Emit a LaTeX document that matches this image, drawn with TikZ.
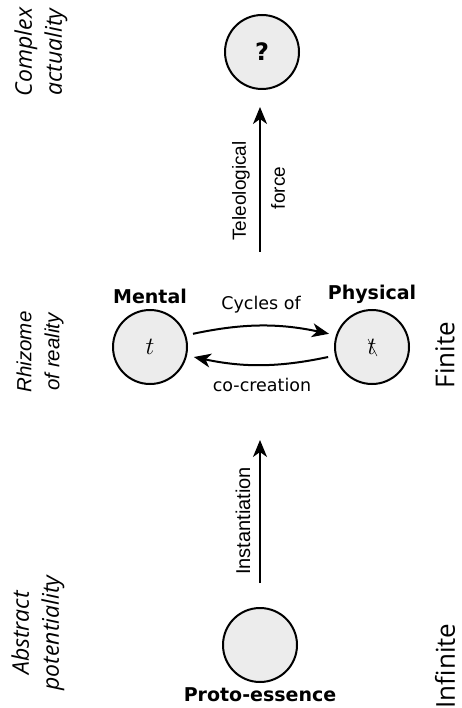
\documentclass[tikz,border=0pt]{standalone}
\usepackage{fontspec}
\setmainfont{DejaVu Sans}
\newfontfamily\libsans{Liberation Sans}
\newfontfamily\opensans{Open Sans}
\usetikzlibrary{arrows.meta}
\begin{document}
\begin{tikzpicture}[x=1pt,y=-1pt,
  state/.style={circle,draw,line width=2pt,fill=gray!15,minimum size=74pt,inner sep=0pt,font=\fontsize{25}{28}\selectfont},
  flow/.style={line width=2pt,-{Stealth[length=17pt,width=14pt,inset=5pt]}},
  cyc/.style={flow,shorten <=7pt,shorten >=7pt},
  title/.style={font=\fontsize{19}{22}\selectfont\bfseries},
  elab/.style={font=\libsans\fontsize{19}{23}\selectfont,rotate=90},
  clab/.style={font=\fontsize{17.5}{20}\selectfont},
  side/.style={font=\opensans\itshape\fontsize{23}{30}\selectfont,rotate=90,align=center},
  rside/.style={font=\opensans\fontsize{26}{30}\selectfont,rotate=90}
]
\useasboundingbox (0,0) rectangle (461,708);
% nodes
\node[state] (q) at (262,52) {\bfseries\fontsize{24}{28}\selectfont ?};
\node[state] (m) at (150,347) {$t$};
\node[state] (p) at (372,347) {$t$};
\node[state] (pe) at (260,645) {};
\draw[line width=0.5pt] ([shift={(-4,-8)}]p.center) -- ([shift={(5,9)}]p.center);
% titles
\node[title] (ml) at (150,296) {Mental};
\node[title] (pl) at (372,294) {Physical};
\node[title] (pel) at (260,695) {Proto-essence};
% vertical arrows
\coordinate (t0) at (260,252);
\coordinate (t1) at (260,107);
\draw[flow] (t0) -- (t1);
\node[elab] (tel) at (241,191) {Teleological};
\node[elab] (tf) at (278,188) {force};
\coordinate (i0) at (260,583);
\coordinate (i1) at (260,440);
\draw[flow] (i0) -- (i1);
\node[elab,font=\libsans\fontsize{20}{24}\selectfont] (ins) at (243,521) {Instantiation};
% cycles
\draw[cyc] (m.18) to[bend left=12] (p.162);
\draw[cyc] (p.-167) to[bend left=12] (m.-13);
\node[clab] (cy) at (261,305) {Cycles of};
\node[clab] (cc) at (262,385) {co-creation};
% side labels
\node[side] (ca) at (41,52) {Complex\\actuality};
\node[side,font=\libsans\itshape\fontsize{20.5}{28}\selectfont] (rr) at (40,352) {Rhizome\\of reality};
\node[side] (ap) at (38,633) {Abstract\\potentiality};
\node[rside] (fi) at (445,355) {Finite};
\node[rside] (inf) at (445,666) {Infinite};
\end{tikzpicture}
\end{document}
